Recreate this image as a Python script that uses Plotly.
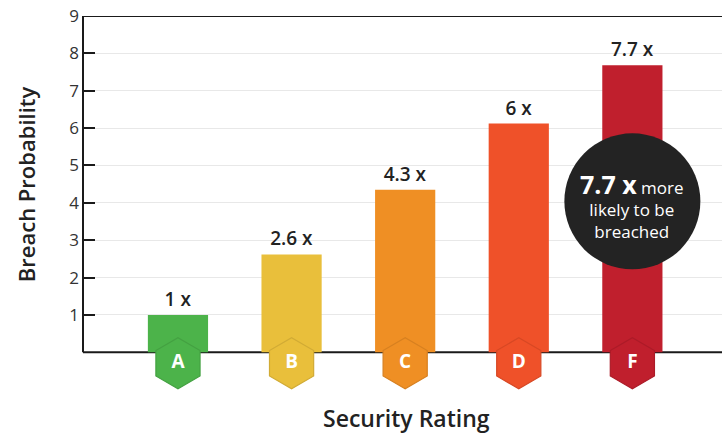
import plotly.graph_objects as go

grades = ["A", "B", "C", "D", "F"]
probability = [1.0, 2.62, 4.35, 6.12, 7.68]
bar_labels = ["1 x", "2.6 x", "4.3 x", "6 x", "7.7 x"]
colors = ["#4cb34a", "#e9bf3b", "#ef8f24", "#ef5129", "#c01f2d"]
y_ticks = [1, 2, 3, 4, 5, 6, 7, 8, 9]
y_top = 9
badge_level = [-0.294] * len(grades)

FONT = "Open Sans"
AXIS_COLOR = "#1a1a1a"


def darken(hex_color, f=0.9):
    h = hex_color.lstrip("#")
    r, g, b = (int(h[i:i + 2], 16) for i in (0, 2, 4))
    return "rgb({},{},{})".format(int(r * f), int(g * f), int(b * f))


fig = go.Figure()
fig.add_trace(go.Bar(
    x=grades, y=probability, marker=dict(color=colors, line=dict(width=0)),
    width=0.53, text=bar_labels, textposition="outside", cliponaxis=False,
    textfont=dict(family=FONT, size=19, color="#222222", weight=600),
    hoverinfo="skip",
))
fig.add_trace(go.Scatter(
    x=grades, y=badge_level, mode="markers+text",
    marker=dict(symbol="hexagon", size=51, color=colors,
                line=dict(width=1.2, color=[darken(c) for c in colors])),
    text=grades, textposition="middle center", cliponaxis=False,
    textfont=dict(family=FONT, size=19, color="white", weight=700),
    hoverinfo="skip",
))

# frame lines: bottom (x axis), left (y axis), top
fig.add_shape(type="line", xref="paper", yref="y", x0=0, x1=1, y0=0, y1=0,
              line=dict(color=AXIS_COLOR, width=2), layer="below")
fig.add_shape(type="line", xref="paper", yref="y", x0=0, x1=1, y0=y_top, y1=y_top,
              line=dict(color=AXIS_COLOR, width=2), layer="below")
fig.add_shape(type="line", xref="paper", yref="y", x0=0, x1=0, y0=0, y1=y_top,
              line=dict(color=AXIS_COLOR, width=2), layer="below")

# dark callout circle
fig.add_shape(type="circle", xref="x", yref="y", xsizemode="pixel", ysizemode="pixel",
              xanchor=4, yanchor=4.04, x0=-68, x1=68, y0=-68, y1=68,
              fillcolor="#232323", line=dict(width=0), layer="above")
fig.add_annotation(x=4, y=3.94, xref="x", yref="y", showarrow=False,
                   text="<b><span style='font-size:25px'>7.7 x</span></b> more<br>likely to be<br>breached",
                   font=dict(family=FONT, size=17, color="white"), align="center")

fig.add_annotation(x=-0.089, y=0.591, xref="paper", yref="paper", showarrow=False,
                   xanchor="center", yanchor="middle",
                   text="Breach Probability", textangle=-90,
                   font=dict(family=FONT, size=22, color="#222222", weight=600))
fig.add_annotation(x=0.506, y=0.022, xref="paper", yref="paper", showarrow=False,
                   xanchor="center", yanchor="middle", text="Security Rating",
                   font=dict(family=FONT, size=23, color="#222222", weight=600))

fig.update_layout(
    width=722, height=435, margin=dict(l=83, r=0, t=16, b=8),
    paper_bgcolor="white", plot_bgcolor="white", showlegend=False,
    xaxis=dict(range=[-0.836, 4.789], showticklabels=False, ticks="",
               showline=False, showgrid=False, zeroline=False, fixedrange=True),
    yaxis=dict(range=[-2, 9], tickvals=y_ticks, ticks="inside",
               ticklen=12, tickwidth=2, tickcolor=AXIS_COLOR, showline=False,
               showgrid=True, gridcolor="#e8e8e8", gridwidth=1, zeroline=False,
               tickfont=dict(family=FONT, size=17, color="#333333"),
               fixedrange=True, ticklabelstandoff=3),
)

fig.write_html("out.html")
